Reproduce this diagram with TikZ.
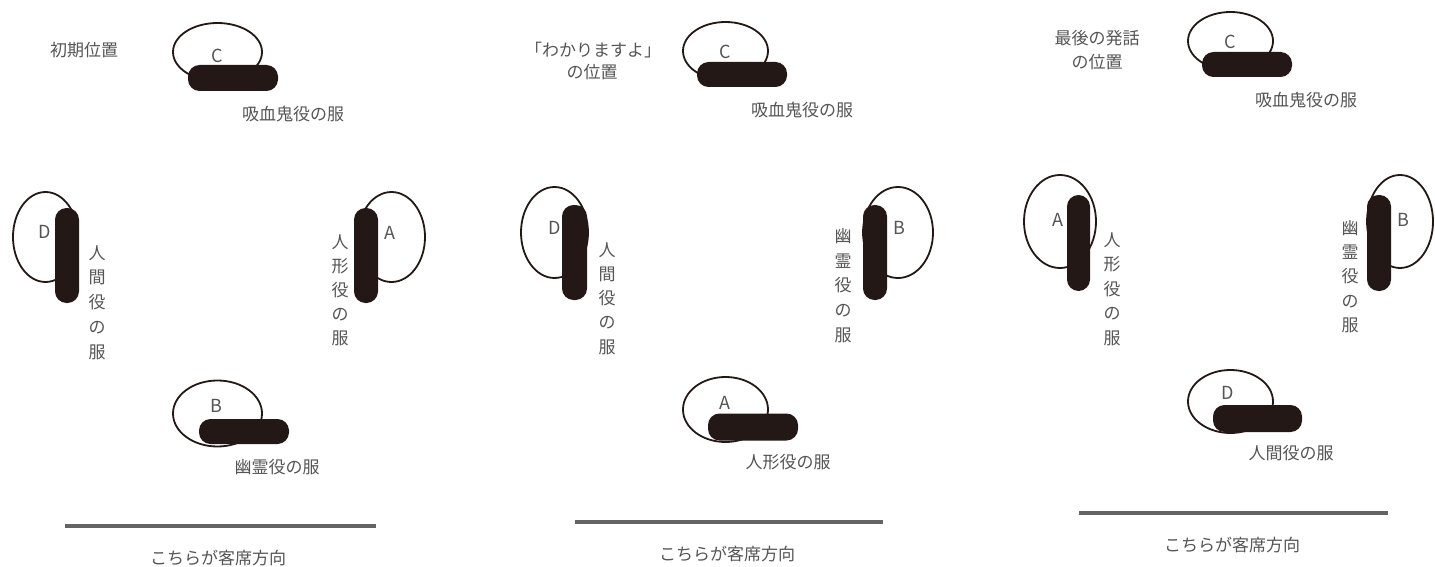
\documentclass[tikz,border=0pt]{standalone}
\usepackage{fontspec}
\newfontfamily\jp{Noto Sans CJK JP}
\usetikzlibrary{shapes.geometric}
\definecolor{ink}{RGB}{35,24,21}
\definecolor{txt}{RGB}{85,85,85}
\definecolor{rulec}{RGB}{100,100,100}
\begin{document}
\begin{tikzpicture}[x=1pt,y=-1pt,
  headshape/.style={ellipse, draw=ink, line width=1.8pt, inner sep=0pt},
  pill/.style={rectangle, fill=ink, rounded corners=11.5pt, inner sep=0pt},
  letter/.style={font=\jp\fontsize{18}{18}\selectfont, text=txt, inner sep=0pt},
  hlab/.style={font=\jp\fontsize{17}{20}\selectfont, text=txt, inner sep=0pt},
  vlab/.style={font=\jp\fontsize{17}{#1}\selectfont, text=txt, inner sep=0pt, align=center},
  vlab/.default=24.5,
  floorline/.style={draw=rulec, line width=3.6pt},
  ]
\fill[white] (0,0) rectangle (1435,567);
\useasboundingbox (0,0) rectangle (1435,567);

% ---------------- Panel 1 ----------------
\node[hlab] (t1) at (84,50) {初期位置};
\node[headshape, minimum width=89pt, minimum height=58pt] (h1c) at (217.5,52) {};
\node[pill, minimum width=90pt, minimum height=26pt] (p1c) at (233,78) {};
\node[letter] (l1c) at (217,56) {C};
\node[hlab] (c1c) at (293,114) {吸血鬼役の服};

\node[headshape, minimum width=65pt, minimum height=90pt] (h1d) at (45.5,237) {};
\node[pill, minimum width=24pt, minimum height=95pt] (p1d) at (67,255.5) {};
\node[letter] (l1d) at (45,232) {D};
\node[vlab=24.75] (c1d) at (97,302.5) {人\\間\\役\\の\\服};

\node[headshape, minimum width=67pt, minimum height=90pt] (h1a) at (391.5,237) {};
\node[pill, minimum width=24pt, minimum height=95pt] (p1a) at (366,255.5) {};
\node[letter] (l1a) at (390,233) {A};
\node[vlab=24] (c1a) at (340,290) {人\\形\\役\\の\\服};

\node[headshape, minimum width=89pt, minimum height=66pt] (h1b) at (217.5,413.5) {};
\node[pill, minimum width=90pt, minimum height=25pt] (p1b) at (244,431.5) {};
\node[letter] (l1b) at (216,406) {B};
\node[hlab] (c1b) at (277,467) {幽霊役の服};

\coordinate (r1a) at (65,526);
\coordinate (r1b) at (376,526);
\draw[floorline] (r1a) -- (r1b);
\node[hlab] (s1) at (218,558) {こちらが客席方向};

% ---------------- Panel 2 ----------------
\node[hlab] (t2a) at (593,50) {「わかりますよ」};
\node[hlab] (t2b) at (592,72) {の位置};
\node[headshape, minimum width=85pt, minimum height=58pt] (h2c) at (725.5,51) {};
\node[pill, minimum width=90pt, minimum height=25pt] (p2c) at (742,74.5) {};
\node[letter] (l2c) at (725,52) {C};
\node[hlab] (c2c) at (802,110) {吸血鬼役の服};

\node[headshape, minimum width=67pt, minimum height=91pt] (h2d) at (554.5,232.5) {};
\node[pill, minimum width=25pt, minimum height=95pt] (p2d) at (574.5,252.5) {};
\node[letter] (l2d) at (555,228) {D};
\node[vlab=24.25] (c2d) at (607,298.5) {人\\間\\役\\の\\服};

\node[headshape, minimum width=70pt, minimum height=91pt] (h2b) at (898,232.5) {};
\node[pill, minimum width=24pt, minimum height=95pt] (p2b) at (875,252.5) {};
\node[letter] (l2b) at (899,228) {B};
\node[vlab=24.75] (c2b) at (843,285.5) {幽\\霊\\役\\の\\服};

\node[headshape, minimum width=85pt, minimum height=65pt] (h2a) at (725.5,409.5) {};
\node[pill, minimum width=90pt, minimum height=27pt] (p2a) at (753,427) {};
\node[letter] (l2a) at (725,403) {A};
\node[hlab] (c2a) at (788,462) {人形役の服};

\coordinate (r2a) at (575,522);
\coordinate (r2b) at (883,522);
\draw[floorline] (r2a) -- (r2b);
\node[hlab] (s2) at (727,554) {こちらが客席方向};

% ---------------- Panel 3 ----------------
\node[hlab] (t3a) at (1097,38) {最後の発話};
\node[hlab] (t3b) at (1097,62) {の位置};
\node[headshape, minimum width=85pt, minimum height=58pt] (h3c) at (1230.5,41) {};
\node[pill, minimum width=90pt, minimum height=25pt] (p3c) at (1247,64.5) {};
\node[letter] (l3c) at (1230,42) {C};
\node[hlab] (c3c) at (1306,100) {吸血鬼役の服};

\node[headshape, minimum width=72pt, minimum height=93pt] (h3a) at (1060,221.5) {};
\node[pill, minimum width=23pt, minimum height=96pt] (p3a) at (1078.5,243) {};
\node[letter] (l3a) at (1058,220) {A};
\node[vlab=24.5] (c3a) at (1112,289) {人\\形\\役\\の\\服};

\node[headshape, minimum width=66pt, minimum height=93pt] (h3b) at (1400,221.5) {};
\node[pill, minimum width=24pt, minimum height=96pt] (p3b) at (1379,243) {};
\node[letter] (l3b) at (1403,220) {B};
\node[vlab=24.25] (c3b) at (1350,276.5) {幽\\霊\\役\\の\\服};

\node[headshape, minimum width=85pt, minimum height=63pt] (h3d) at (1230.5,401.5) {};
\node[pill, minimum width=89pt, minimum height=27pt] (p3d) at (1257.5,418.5) {};
\node[letter] (l3d) at (1228,393) {D};
\node[hlab] (c3d) at (1291,453) {人間役の服};

\coordinate (r3a) at (1079,513);
\coordinate (r3b) at (1388,513);
\draw[floorline] (r3a) -- (r3b);
\node[hlab] (s3) at (1232,545) {こちらが客席方向};
\end{tikzpicture}
\end{document}
